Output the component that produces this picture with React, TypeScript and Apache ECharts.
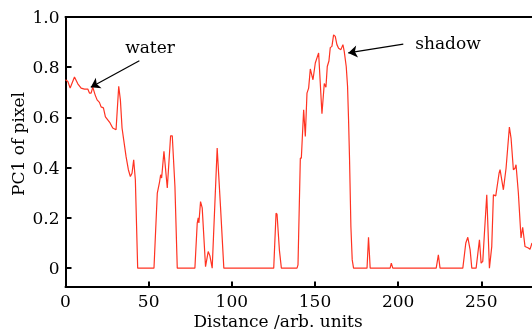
import React, { useEffect, useRef } from "react";
import * as echarts from "echarts";

const distance = [
  0, 1.4, 2.8, 5.4, 7.4, 9.4, 11.4, 13.4, 14.4, 15.4, 16.4, 17.8, 19, 20.4, 21.4, 22.8, 24, 25.4, 26.8, 28.4,
  30.4, 32, 33, 34, 35, 36.4, 37.8, 39, 40, 41, 42, 43.4, 53.2, 55.2, 56.6, 57.2, 57.8, 59.2, 61.2, 63.2,
  64.2, 65.8, 67.2, 77.8, 79.2, 79.8, 80.2, 81.2, 82.2, 84.2, 85.8, 86.8, 88.2, 91.2, 93.2, 95.2, 125.2, 126.6, 127.2, 128.6,
  129.8, 139.2, 139.8, 141.2, 141.8, 143.2, 144.2, 145.2, 146.2, 147.2, 148.8, 150.2, 152.2, 154.2, 155.6, 156.6, 157.4, 158.4, 159.2, 160.2,
  161.2, 162.2, 163.2, 164.2, 165.6, 166.8, 167.6, 168.8, 169.6, 170.2, 170.8, 171.6, 172.4, 173.2, 181.3, 182.2, 183.2, 195.2, 195.9, 196.8,
  222.9, 224.2, 225.2, 238.9, 240.7, 241.9, 243.3, 244.3, 246.9, 248.9, 249.9, 250.9, 251.9, 253.3, 254.9, 256.3, 257.3, 258.7, 260.7, 261.3,
  263.3, 264.9, 266.9, 267.9, 269.3, 270.3, 270.9, 272.3, 273.9, 274.9, 276.3, 278.3, 279.3, 280.5,
];

const pc1 = [
  0.75, 0.743, 0.717, 0.761, 0.734, 0.717, 0.713, 0.713, 0.697, 0.697, 0.721, 0.69, 0.67, 0.66, 0.642, 0.638, 0.602, 0.59, 0.578, 0.558,
  0.551, 0.724, 0.67, 0.558, 0.511, 0.445, 0.392, 0.365, 0.378, 0.431, 0.352, 0, 0, 0.299, 0.345, 0.372, 0.359, 0.465, 0.319, 0.527,
  0.527, 0.325, 0, 0, 0.179, 0.2, 0.18, 0.265, 0.24, 0.006, 0.066, 0.05, 0, 0.478, 0.245, 0, 0, 0.219, 0.215, 0.073,
  0, 0, 0.013, 0.438, 0.438, 0.631, 0.524, 0.697, 0.717, 0.793, 0.75, 0.817, 0.857, 0.615, 0.735, 0.72, 0.803, 0.825, 0.878, 0.883,
  0.929, 0.923, 0.89, 0.876, 0.87, 0.89, 0.863, 0.803, 0.723, 0.591, 0.431, 0.166, 0.033, 0, 0, 0.123, 0, 0, 0.02, 0,
  0, 0.053, 0, 0, 0.1, 0.123, 0.073, 0, 0, 0.113, 0.02, 0.027, 0.14, 0.292, 0, 0.086, 0.292, 0.288, 0.378, 0.392,
  0.312, 0.398, 0.562, 0.518, 0.392, 0.398, 0.412, 0.299, 0.12, 0.163, 0.086, 0.08, 0.075, 0.1,
];

const xTicks = [0, 50, 100, 150, 200, 250];
const yTicks = [0, 0.2, 0.4, 0.6, 0.8, 1.0];

const waterArrow = { from: [44.4, 0.826], to: [15.2, 0.72] };
const shadowArrow = { from: [203.1, 0.892], to: [170.0, 0.857] };

const FONT = "DejaVu Serif";

export default function App() {
  const ref = useRef<HTMLDivElement>(null);
  useEffect(() => {
    if (!ref.current) return;
    const chart = echarts.init(ref.current, undefined, { renderer: "svg" });
    const data = distance.map((d, i) => [d, pc1[i]]);
    chart.setOption({
      animation: false,
      grid: { left: 65.5, right: 0, top: 17, bottom: 45.5, containLabel: false },
      xAxis: [
        {
          type: "value",
          min: 0,
          max: 280.5,
          position: "bottom",
          axisLine: { show: true, onZero: false, lineStyle: { color: "#000", width: 2 } },
          axisTick: { show: true, inside: true, length: 5, lineStyle: { color: "#000", width: 2 }, customValues: xTicks },
          axisLabel: {
            show: true,
            customValues: xTicks,
            color: "#000",
            fontFamily: FONT,
            fontSize: 17,
            margin: 6,
          },
          splitLine: { show: false },
        },
        {
          type: "value",
          min: 0,
          max: 280.5,
          position: "top",
          axisLine: { show: true, onZero: false, lineStyle: { color: "#000", width: 2 } },
          axisTick: { show: false },
          axisLabel: { show: false },
          splitLine: { show: false },
        },
      ],
      yAxis: {
        type: "value",
        min: -0.073,
        max: 1.0,
        axisLine: { show: true, onZero: false, lineStyle: { color: "#000", width: 2 } },
        axisTick: { show: true, inside: true, length: 6, lineStyle: { color: "#000", width: 2 }, customValues: yTicks },
        axisLabel: {
          show: true,
          customValues: yTicks,
          color: "#000",
          fontFamily: FONT,
          fontSize: 17,
          margin: 6,
          formatter: (v: number) => (v === 0 ? "0" : v.toFixed(1)),
        },
        splitLine: { show: false },
      },
      graphic: [
        {
          type: "text",
          x: 150,
          y: 47,
          style: { text: "water", fontFamily: FONT, fontSize: 17, fill: "#000", align: "center", verticalAlign: "middle" },
        },
        {
          type: "text",
          x: 448,
          y: 43,
          style: { text: "shadow", fontFamily: FONT, fontSize: 17, fill: "#000", align: "center", verticalAlign: "middle" },
        },
        {
          type: "text",
          x: 278,
          y: 321,
          style: {
            text: "Distance /arb. units",
            fontFamily: FONT,
            fontSize: 17,
            fill: "#000",
            align: "center",
            verticalAlign: "middle",
          },
        },
        {
          type: "text",
          x: 18,
          y: 144,
          rotation: Math.PI / 2,
          style: {
            text: "PC1 of pixel",
            fontFamily: FONT,
            fontSize: 17,
            fill: "#000",
            align: "center",
            verticalAlign: "middle",
          },
        },
      ],
      series: [
        {
          type: "line",
          data,
          showSymbol: false,
          symbol: "none",
          lineStyle: { color: "#ff3322", width: 1.2 },
          silent: true,
          markLine: {
            silent: true,
            symbol: ["none", "arrow"],
            symbolSize: 9,
            label: { show: false },
            lineStyle: { color: "#000", width: 1.2, type: "solid" },
            data: [
              [{ coord: waterArrow.from }, { coord: waterArrow.to }],
              [{ coord: shadowArrow.from }, { coord: shadowArrow.to }],
            ],
          },
        },
      ],
    });
    return () => chart.dispose();
  }, []);
  return <div ref={ref} style={{ position: "fixed", left: 0, top: 0, width: 532, height: 332 }} />;
}
